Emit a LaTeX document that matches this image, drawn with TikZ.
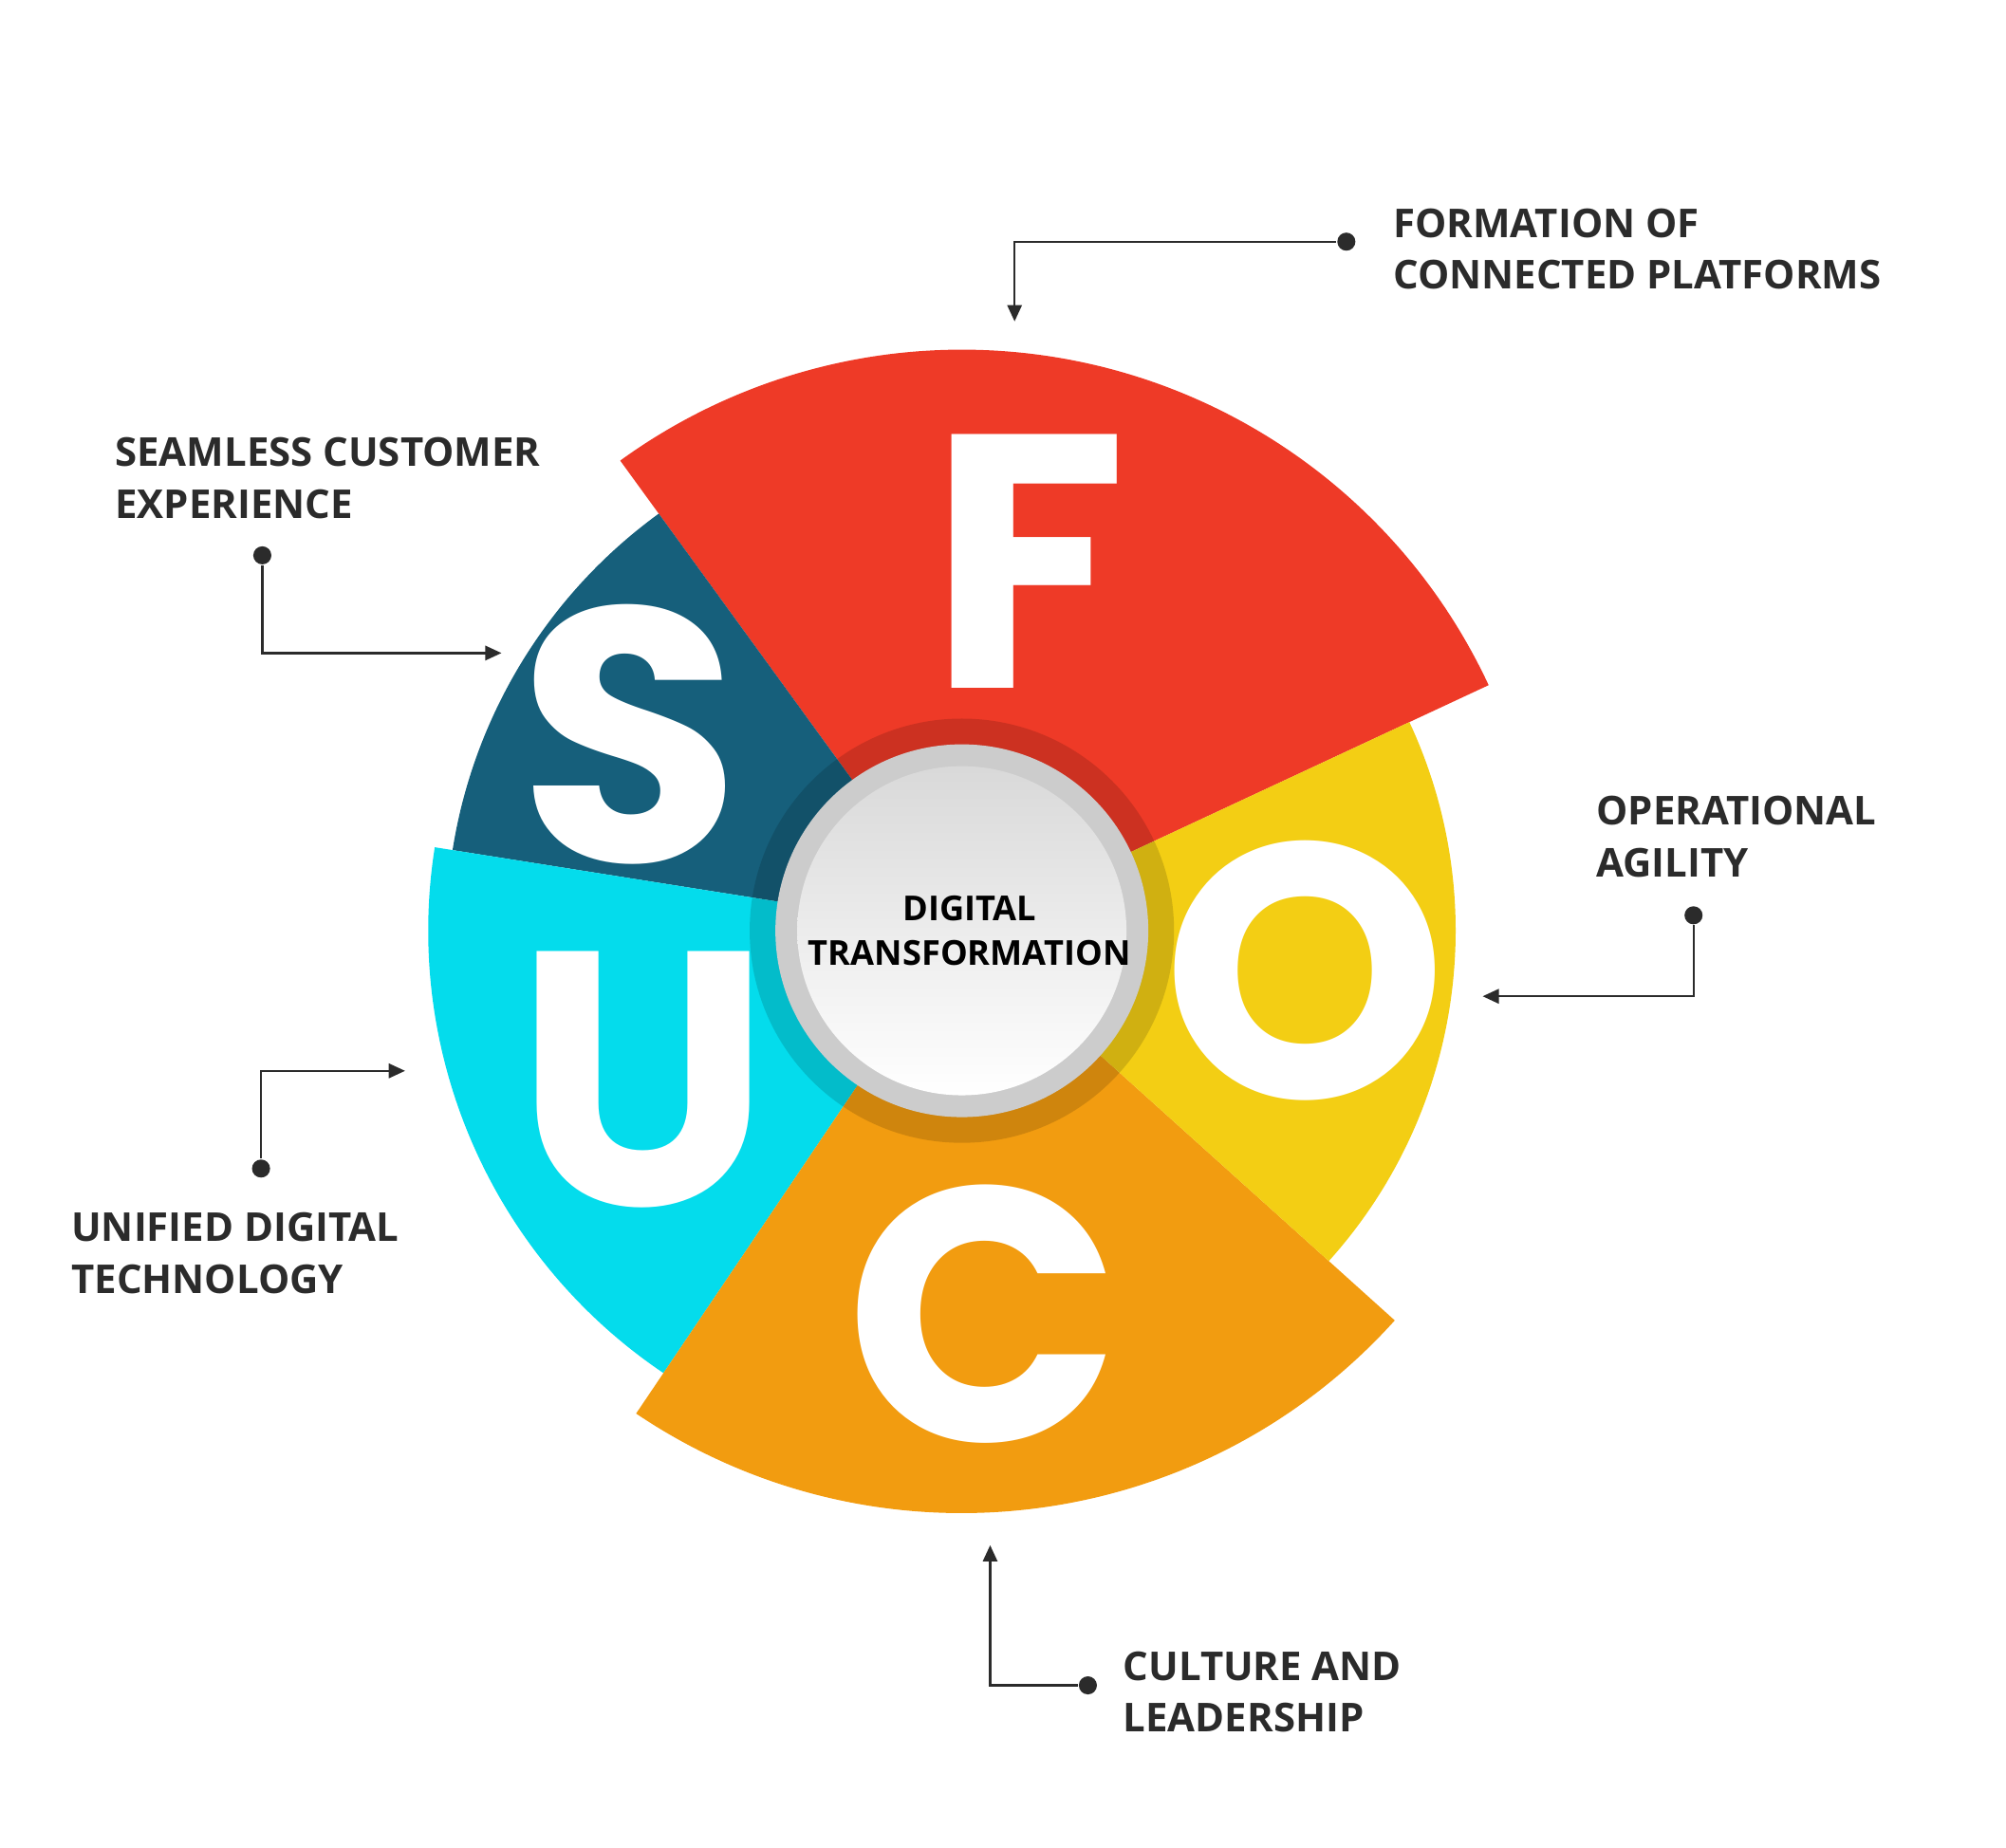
\documentclass[tikz,border=0pt]{standalone}
\usepackage{fontspec}
\setmainfont{Open Sans}
\newfontfamily\letterfont{Poppins}
\usetikzlibrary{arrows.meta}
\definecolor{segred}{HTML}{EE3A27}
\definecolor{segblue}{HTML}{165F7B}
\definecolor{segcyan}{HTML}{04DCEC}
\definecolor{segorange}{HTML}{F29C10}
\definecolor{segyellow}{HTML}{F3CE14}
\definecolor{labeltext}{HTML}{2B2B2B}
\tikzset{
	every path/.style={line width=1.2pt},
	lbl/.style={
		anchor=north west,
		align=left,
		text=labeltext,
		font=\fontsize{22}{28.5}\selectfont\bfseries,
	},
	letter/.style={
		text=white,
		font=\letterfont\fontsize{200}{200}\selectfont\bfseries,
	},
	pointer/.style={
		draw=labeltext,
		-{Triangle[length=9pt,width=8pt]},
	},
	dot/.style={
		circle,
		fill=labeltext,
		inner sep=0pt,
		minimum size=10pt,
	},
}
\begin{document}
\begin{tikzpicture}[x=0.025cm,y=0.025cm]
	\useasboundingbox (0,0) rectangle (1560,1437);
	\begin{scope}[shift={(748,713)}]
		\fill[segred]    (0,0) -- (25:452) arc (25:126:452) -- cycle;
		\fill[segblue]   (0,0) -- (126:401) arc (126:171:401) -- cycle;
		\fill[segcyan]   (0,0) -- (171:415) arc (171:236:415) -- cycle;
		\fill[segorange] (0,0) -- (236:453) arc (236:318:453) -- cycle;
		\fill[segyellow] (0,0) -- (-42:384) arc (-42:25:384) -- cycle;
		\fill[black,opacity=0.14] (0,0) circle (165);
		\fill[gray!40] (0,0) circle (145);
		\shade[top color=gray!30,bottom color=white] (0,0) circle (128);
	\end{scope}

	\node[letter] (lF) at (800,1000) {F};
	\node[letter] (lS) at (490,866) {S};
	\node[letter] (lO) at (1015,682) {O};
	\node[letter] (lU) at (500,597) {U};
	\node[letter] (lC) at (765,415) {C};
	\node[font=\fontsize{19}{25}\selectfont\bfseries,align=center] (core) at (754,713) {DIGITAL\\TRANSFORMATION};

	\node[lbl] (tF) at (1078,1280) {FORMATION OF\\CONNECTED PLATFORMS};
	\node[lbl] (tS) at (84,1102) {SEAMLESS CUSTOMER\\EXPERIENCE};
	\node[lbl] (tO) at (1236,823) {OPERATIONAL\\AGILITY};
	\node[lbl] (tU) at (50,499) {UNIFIED DIGITAL\\TECHNOLOGY};
	\node[lbl] (tC) at (868,158) {CULTURE AND\\LEADERSHIP};

	\node[dot] (dF) at (1047,1249) {};
	\node[dot] (dS) at (204,1005) {};
	\node[dot] (dO) at (1317,725) {};
	\node[dot] (dU) at (203,528) {};
	\node[dot] (dC) at (846,126) {};

	\coordinate (aF) at (789,1187);
	\coordinate (aS) at (390,929);
	\coordinate (aO) at (1153,662);
	\coordinate (aU) at (315,604);
	\coordinate (aC) at (770,235);

	\draw[pointer] (dF) -| (aF);
	\draw[pointer] (dS) |- (aS);
	\draw[pointer] (dO) |- (aO);
	\draw[pointer] (dU) |- (aU);
	\draw[pointer] (dC) -| (aC);
\end{tikzpicture}
\end{document}
